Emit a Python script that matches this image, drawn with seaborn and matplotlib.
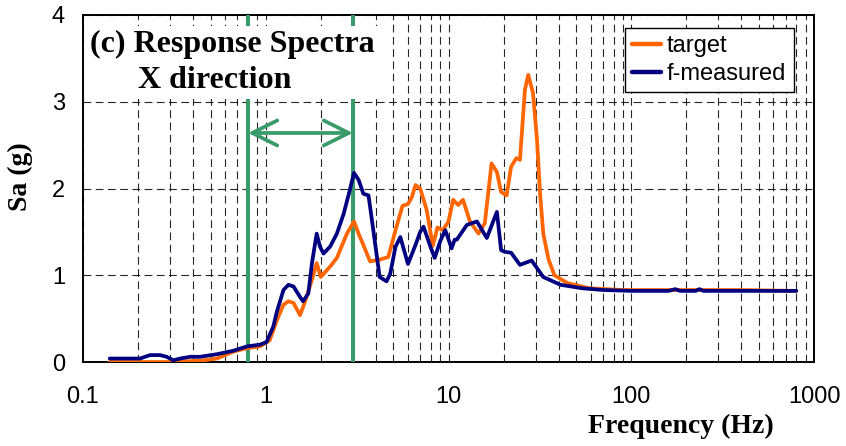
import numpy as np
import pandas as pd
import matplotlib
matplotlib.use("Agg")
import matplotlib.pyplot as plt
import seaborn as sns
from matplotlib.ticker import FixedLocator, FixedFormatter, LogLocator, NullFormatter

# ---------------- data ----------------
target_freq = [0.14, 0.29, 0.44, 0.54, 0.665, 0.79, 0.93, 1.05, 1.15, 1.25, 1.33, 1.42,
               1.54, 1.63, 1.79, 1.9, 2.0, 2.25, 2.45, 2.78, 3.04, 3.22, 3.42, 3.72,
               4.2, 4.68, 4.95, 5.13, 5.6, 6.0, 6.3, 6.6, 7.0, 7.6, 8.2, 8.7, 9.3,
               10.0, 10.6, 11.3, 12.0, 13.1, 14.6, 15.8, 17.2, 18.4, 19.4, 20.8, 22.0,
               23.5, 24.6, 26.2, 27.3, 29.0, 30.5, 31.7, 33.0, 35.3, 38.0, 44.7, 59.0,
               90.0, 200.0, 400.0, 800.0]
target_sa = [0.0, 0.0, 0.015, 0.04, 0.12, 0.16, 0.18, 0.25, 0.48, 0.66, 0.70, 0.68,
             0.54, 0.68, 0.95, 1.14, 0.98, 1.10, 1.20, 1.48, 1.62, 1.48, 1.35, 1.16,
             1.18, 1.21, 1.40, 1.52, 1.80, 1.82, 1.90, 2.04, 2.00, 1.75, 1.34, 1.55, 1.52,
             1.62, 1.87, 1.81, 1.87, 1.62, 1.48, 1.60, 2.29, 2.19, 1.96, 1.92, 2.25,
             2.35, 2.33, 3.14, 3.31, 3.10, 2.56, 1.94, 1.48, 1.18, 1.00, 0.91, 0.85,
             0.83, 0.83, 0.83, 0.82]

meas_freq = [0.14, 0.205, 0.233, 0.264, 0.287, 0.312, 0.34, 0.385, 0.437, 0.54, 0.665,
             0.79, 0.93, 1.01, 1.1, 1.15, 1.25, 1.33, 1.42, 1.54, 1.6, 1.71, 1.79,
             1.9, 1.98, 2.07, 2.25, 2.45, 2.67, 2.85, 3.04, 3.22, 3.42, 3.65, 3.9,
             4.2, 4.58, 4.8, 5.13, 5.45, 6.0, 6.6, 7.0, 7.3, 7.96, 8.4, 9.0, 9.6,
             10.4, 10.8, 11.1, 12.6, 14.3, 16.2, 18.4, 19.4, 20.3, 22.0, 24.6, 28.5,
             33.0, 41.0, 54.0, 70.0, 100.0, 160.0, 174.0, 185.0, 225.0, 236.0, 248.0,
             400.0, 800.0]
meas_sa = [0.04, 0.04, 0.08, 0.08, 0.06, 0.02, 0.04, 0.06, 0.06, 0.09, 0.13,
           0.18, 0.20, 0.23, 0.41, 0.58, 0.83, 0.89, 0.87, 0.75, 0.70, 0.79, 1.14,
           1.48, 1.33, 1.25, 1.33, 1.48, 1.71, 1.94, 2.18, 2.10, 1.94, 1.92, 1.48,
           0.98, 0.93, 1.02, 1.33, 1.44, 1.13, 1.35, 1.50, 1.56, 1.33, 1.20, 1.39, 1.52,
           1.31, 1.41, 1.41, 1.58, 1.62, 1.43, 1.73, 1.29, 1.27, 1.26, 1.12, 1.17,
           0.98, 0.89, 0.85, 0.83, 0.82, 0.82, 0.84, 0.82, 0.82, 0.84, 0.82,
           0.82, 0.82]

series_names = ["target", "f-measured"]
band_freqs = [0.8, 3.0]
arrow_level = 2.64
x_ticks = [0.1, 1, 10, 100, 1000]
x_ticklabels = ["0.1", "1", "10", "100", "1000"]
y_ticks = [0, 1, 2, 3, 4]
y_ticklabels = ["0", "1", "2", "3", "4"]

df = pd.concat([
    pd.DataFrame({"freq": target_freq, "sa": target_sa, "series": series_names[0]}),
    pd.DataFrame({"freq": meas_freq, "sa": meas_sa, "series": series_names[1]}),
], ignore_index=True)

# ---------------- style ----------------
sns.set_style("white")
plt.rcParams["font.family"] = ["Liberation Sans", "DejaVu Sans"]
plt.rcParams["text.color"] = "black"
plt.rcParams["axes.labelcolor"] = "black"
plt.rcParams["xtick.color"] = "black"
plt.rcParams["ytick.color"] = "black"

fig = plt.figure(figsize=(8.46, 4.46), dpi=100)
ax = fig.add_axes([0.0981, 0.1883, 0.9622 - 0.0981, 0.9664 - 0.1883])

orange = "#FF6600"
navy = "#000080"
green = "#3A9B6A"

for f in band_freqs:
    ax.axvline(f, color=green, lw=2.9, zorder=3)

sns.lineplot(data=df, x="freq", y="sa", hue="series", hue_order=series_names,
             palette=[orange, navy], estimator=None, sort=False, lw=2.7,
             ax=ax, zorder=4)

ax.annotate("", xy=(band_freqs[0], arrow_level), xytext=(band_freqs[1], arrow_level),
            arrowprops=dict(arrowstyle="<->,head_length=0.9,head_width=0.45",
                            color=green, lw=2.7, shrinkA=0, shrinkB=0,
                            mutation_scale=20),
            zorder=5)

ax.set_xscale("log")
ax.set_xlim(0.1, 1000)
ax.set_ylim(0, 4)

ax.xaxis.set_major_locator(FixedLocator(x_ticks))
ax.xaxis.set_major_formatter(FixedFormatter(x_ticklabels))
ax.xaxis.set_minor_locator(LogLocator(base=10, subs=np.arange(2, 10)))
ax.xaxis.set_minor_formatter(NullFormatter())
ax.yaxis.set_major_locator(FixedLocator(y_ticks))
ax.yaxis.set_major_formatter(FixedFormatter(y_ticklabels))

dash = (0, (7, 4))
ax.grid(True, which="major", axis="both", color="black", ls=dash, lw=0.8, alpha=0.85)
ax.grid(True, which="minor", axis="x", color="black", ls=dash, lw=0.8, alpha=0.85)
ax.set_axisbelow(True)

ax.tick_params(axis="both", which="major", direction="out", length=5, width=1.2,
               labelsize=17, colors="black", labelcolor="black")
ax.tick_params(axis="x", which="major", pad=12)
ax.tick_params(axis="y", which="major", pad=8)
ax.tick_params(axis="x", which="minor", length=0)
for s in ax.spines.values():
    s.set_visible(True)
    s.set_color("black")
    s.set_linewidth(1.4)

ax.set_xlabel("Frequency (Hz)", family=["Liberation Serif"], weight="bold",
              fontsize=20, color="black")
ax.xaxis.set_label_coords(0.818, -0.150)
ax.set_ylabel("Sa (g)", family=["Liberation Serif"], weight="bold",
              fontsize=20, color="black")
ax.yaxis.set_label_coords(-0.068, 0.533)

# title block with white background
ax.text(0.009, 0.957, "(c) Response Spectra\n      X direction", transform=ax.transAxes,
        ha="left", va="top", fontsize=23, family=["Liberation Serif"], weight="bold",
        color="black", linespacing=1.3, zorder=6,
        bbox=dict(facecolor="white", edgecolor="none", pad=3))

leg = ax.legend(loc="upper right", bbox_to_anchor=(0.972, 0.962), fontsize=17,
                frameon=True, fancybox=False, edgecolor="black", framealpha=1,
                handlelength=1.25, borderpad=0.3, labelspacing=0.25, handletextpad=0.25,
                borderaxespad=0)
leg.set_title(None)
leg.get_frame().set_linewidth(1.0)
for t in leg.get_texts():
    t.set_color("black")
for h in leg.get_lines():
    h.set_linewidth(3.2)

fig.savefig("out.png", dpi=100)
